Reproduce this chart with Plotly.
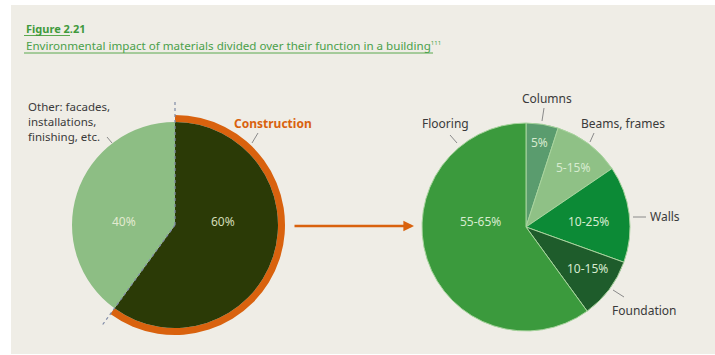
import math
import plotly.graph_objects as go

# ---- data -------------------------------------------------------------
overview_labels = ["Construction", "Other: facades, installations, finishing, etc."]
overview_share = [60, 40]

part_labels = ["Columns", "Beams, frames", "Walls", "Foundation", "Flooring"]
part_share = [5, 10.5, 15, 9.5, 60]          # central estimate per function
part_low = [5, 5, 10, 10, 55]                # reported range, low end (%)
part_high = [5, 15, 25, 15, 65]              # reported range, high end (%)

# ---- styling ----------------------------------------------------------
W, H = 715, 355
PANEL = "#efede6"
ORANGE = "#d9620e"
TEXT = "#3a3a3a"
LEADER = "#8a8a8a"
FONT = "Noto Sans"
overview_colors = ["#2b3a06", "#8dbe84"]
part_colors = ["#5a9c6e", "#8fc186", "#0c8a36", "#1e5c2b", "#3b9a3d"]

# pie geometry in pixels (centre x, centre y, radius)
L_CX, L_CY, L_R = 175, 225, 103
RING_R = 110
R_CX, R_CY, R_R = 526, 227, 104


def domain(cx, cy, r):
    return dict(x=[(cx - r) / W, (cx + r) / W],
                y=[1 - (cy + r) / H, 1 - (cy - r) / H])


def range_text(lo, hi):
    return f"{lo}%" if lo == hi else f"{lo}-{hi}%"


fig = go.Figure()

# orange rim around the construction share
fig.add_trace(go.Pie(
    values=overview_share, labels=overview_labels, sort=False,
    direction="clockwise", rotation=0, hole=L_R / RING_R,
    marker=dict(colors=[ORANGE, "rgba(0,0,0,0)"], line=dict(width=0)),
    textinfo="none", hoverinfo="skip", showlegend=False,
    domain=domain(L_CX, L_CY, RING_R),
))

# overview pie
fig.add_trace(go.Pie(
    values=overview_share, labels=overview_labels, sort=False,
    direction="clockwise", rotation=0,
    marker=dict(colors=overview_colors, line=dict(width=0)),
    textinfo="none", showlegend=False,
    domain=domain(L_CX, L_CY, L_R),
))

# breakdown of the construction share
fig.add_trace(go.Pie(
    values=part_share, labels=part_labels, sort=False,
    direction="clockwise", rotation=0,
    marker=dict(colors=part_colors, line=dict(color="#a8d49e", width=1)),
    textinfo="none", showlegend=False,
    domain=domain(R_CX, R_CY, R_R),
))

shapes = [
    # beige panel
    dict(type="rect", xref="paper", yref="paper",
         x0=11 / W, x1=1, y0=1 - 354 / H, y1=1 - 5 / H,
         fillcolor=PANEL, line=dict(width=0), layer="below"),
    # title underlines
    dict(type="line", x0=24, x1=70, y0=35.5, y1=35.5,
         line=dict(color="#5aa84e", width=1)),
    dict(type="line", x0=24, x1=433, y0=53, y1=53,
         line=dict(color="#5aa84e", width=1)),
]

# dotted dividers of the overview pie, extended past the rim
for share in [0, overview_share[0]]:
    ang = math.radians(360 * share / sum(overview_share))
    shapes.append(dict(
        type="line", layer="above",
        x0=L_CX, y0=L_CY,
        x1=L_CX + 126 * math.sin(ang), y1=L_CY - 126 * math.cos(ang),
        line=dict(color="#7f8aa6", width=1.2, dash="dot")))

# leader lines
leaders = [
    (107, 137, 112, 143),   # Other
    (258, 133, 252, 143),   # Construction
    (544, 108, 542, 121),   # Columns
    (594, 133, 590, 142),   # Beams, frames
    (633, 217, 646, 217),   # Walls
    (613, 290, 624, 297),   # Foundation
    (450, 135, 457, 143),   # Flooring
]
for x0, y0, x1, y1 in leaders:
    shapes.append(dict(type="line", x0=x0, y0=y0, x1=x1, y1=y1,
                       line=dict(color=LEADER, width=1)))

annotations = []


def note(x, y, text, size=12, color=TEXT, xanchor="center", bold=False, align="center"):
    if bold:
        text = f"<b>{text}</b>"
    annotations.append(dict(x=x, y=y, text=text, showarrow=False,
                            xanchor=xanchor, yanchor="middle", align=align,
                            font=dict(family=FONT, size=size, color=color)))


# title block
note(24, 28, "Figure 2.21", size=11, color="#3f9a3c", xanchor="left", bold=True)
note(24, 45, "Environmental impact of materials divided over their function in a building"
     "<sup><span style='font-size:6px'>111</span></sup>",
     size=11.6, color="#4aa04a", xanchor="left")

# overview labels
note(26, 121, "Other: facades,<br>installations,<br>finishing, etc.", size=11.5,
     xanchor="left", align="left")
note(273, 123, overview_labels[0], size=12, color=ORANGE, bold=True)
note(223, 221, f"{overview_share[0]}%", size=12, color="#d2dcb6")
note(124, 221, f"{overview_share[1]}%", size=12, color="#e2ead0")

# breakdown labels
note(547, 98, part_labels[0])
note(623, 123, part_labels[1])
note(648, 216, part_labels[2], xanchor="left")
note(644, 310, part_labels[3])
note(445, 123, part_labels[4])

inside_pos = [(539, 142), (573, 167), (588, 221), (587, 268), (480, 221)]
for (x, y), lo, hi in zip(inside_pos, part_low, part_high):
    note(x, y, range_text(lo, hi), size=12, color="#d6ebcf")

# arrow linking the construction share to its breakdown
annotations.append(dict(x=414, y=226, ax=293, ay=226, xref="x", yref="y",
                        axref="x", ayref="y", text="", showarrow=True,
                        arrowhead=2, arrowsize=0.85, arrowwidth=2.5,
                        arrowcolor=ORANGE, standoff=0))

fig.update_layout(
    width=W, height=H,
    margin=dict(l=0, r=0, t=0, b=0),
    paper_bgcolor="white", plot_bgcolor="rgba(0,0,0,0)",
    xaxis=dict(range=[0, W], visible=False, fixedrange=True),
    yaxis=dict(range=[H, 0], visible=False, fixedrange=True),
    shapes=shapes, annotations=annotations,
    showlegend=False,
)

fig.write_html("out.html")
